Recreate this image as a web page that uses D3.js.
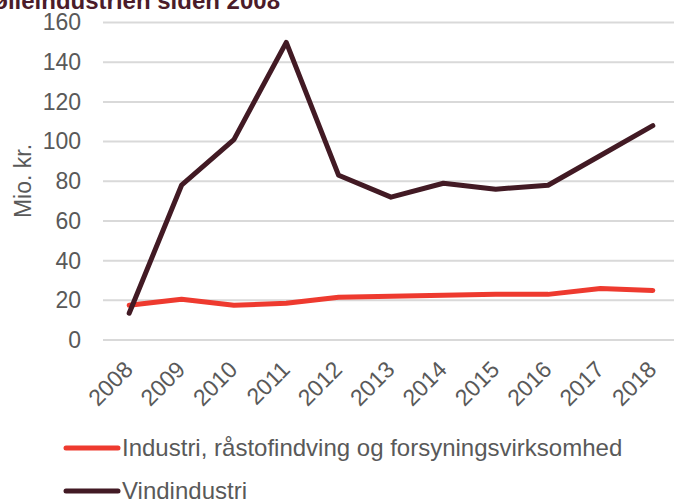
<!DOCTYPE html>
<html lang="da">
<head>
	<meta charset="UTF-8"/>
	<title>Vindmølleindustrien siden 2008</title>
	<script src="https://d3js.org/d3.v7.min.js"></script>
	<style>
		body { margin: 0; background: #fff; }
		svg { display: block; font-family: "Liberation Sans", Arial, sans-serif; }
	</style>
</head>
<body>
	<script>
	var years = ["2008", "2009", "2010", "2011", "2012", "2013", "2014", "2015", "2016", "2017", "2018"];
	var industri = [17.5, 20.5, 17.5, 18.5, 21.5, 22, 22.5, 23, 23, 26, 25];
	var vind = [13.5, 78, 101, 150, 83, 72, 79, 76, 78, 93, 108];
	var yTicks = [0, 20, 40, 60, 80, 100, 120, 140, 160];
	var seriesNames = ["Industri, råstofindving og forsyningsvirksomhed", "Vindindustri"];
	var seriesColors = ["#ee3a2f", "#421a24"];

	var w = 674;
	var h = 502;

	var svg = d3.select("body")
		.append("svg")
		.attr("width", w)
		.attr("height", h);

	var xScale = d3.scaleBand()
		.domain(years)
		.range([103, 679]);

	var yScale = d3.scaleLinear()
		.domain([0, 160])
		.range([340, 22.5]);

	// title, clipped at the top-left edge like the original
	svg.append("text")
		.attr("x", 280)
		.attr("y", 9)
		.attr("text-anchor", "end")
		.attr("font-size", "24px")
		.attr("font-weight", "bold")
		.attr("fill", "#4b1c2a")
		.text("Eksport fra vindmølleindustrien siden 2008");

	// gridlines
	svg.selectAll("line.grid")
		.data(yTicks)
		.enter()
		.append("line")
		.attr("class", "grid")
		.attr("x1", 103)
		.attr("x2", w)
		.attr("y1", function (d) { return yScale(d); })
		.attr("y2", function (d) { return yScale(d); })
		.attr("stroke", "#d9d9d9")
		.attr("stroke-width", 2);

	var yAxis = d3.axisLeft(yScale)
		.tickValues(yTicks)
		.tickSize(0)
		.tickPadding(0);
	var gy = svg.append("g")
		.attr("transform", "translate(81,0)")
		.call(yAxis);
	gy.select(".domain").remove();
	gy.selectAll("text")
		.attr("font-size", "23px")
		.attr("font-family", "Liberation Sans, Arial, sans-serif")
		.attr("fill", "#595959");

	var xAxis = d3.axisBottom(xScale)
		.tickSize(0);
	var gx = svg.append("g")
		.attr("transform", "translate(0,340)")
		.call(xAxis);
	gx.select(".domain").remove();
	gx.selectAll("text")
		.attr("font-size", "23px")
		.attr("font-family", "Liberation Sans, Arial, sans-serif")
		.attr("fill", "#595959")
		.attr("text-anchor", "end")
		.attr("dy", null)
		.attr("y", 0)
		.attr("transform", "translate(5,31) rotate(-45)");

	svg.append("text")
		.attr("transform", "translate(31,181) rotate(-90)")
		.attr("text-anchor", "middle")
		.attr("font-size", "23px")
		.attr("fill", "#595959")
		.text("Mio. kr.");

	var line = d3.line()
		.x(function (d, i) { return xScale(years[i]) + xScale.bandwidth() / 2; })
		.y(function (d) { return yScale(d); });

	svg.append("path")
		.datum(industri)
		.attr("d", line)
		.attr("fill", "none")
		.attr("stroke", seriesColors[0])
		.attr("stroke-width", 5)
		.attr("stroke-linejoin", "round")
		.attr("stroke-linecap", "round");

	svg.append("path")
		.datum(vind)
		.attr("d", line)
		.attr("fill", "none")
		.attr("stroke", seriesColors[1])
		.attr("stroke-width", 5)
		.attr("stroke-linejoin", "round")
		.attr("stroke-linecap", "round");

	// legend
	var legend = svg.selectAll("g.legend")
		.data(seriesNames)
		.enter()
		.append("g")
		.attr("class", "legend")
		.attr("transform", function (d, i) { return "translate(0," + (448 + i * 43) + ")"; });

	legend.append("line")
		.attr("x1", 66)
		.attr("x2", 118)
		.attr("stroke", function (d, i) { return seriesColors[i]; })
		.attr("stroke-width", 5)
		.attr("stroke-linecap", "round");

	legend.append("text")
		.attr("x", 122)
		.attr("y", 8)
		.attr("font-size", "24px")
		.attr("fill", "#595959")
		.text(function (d) { return d; });
	</script>
</body>
</html>
